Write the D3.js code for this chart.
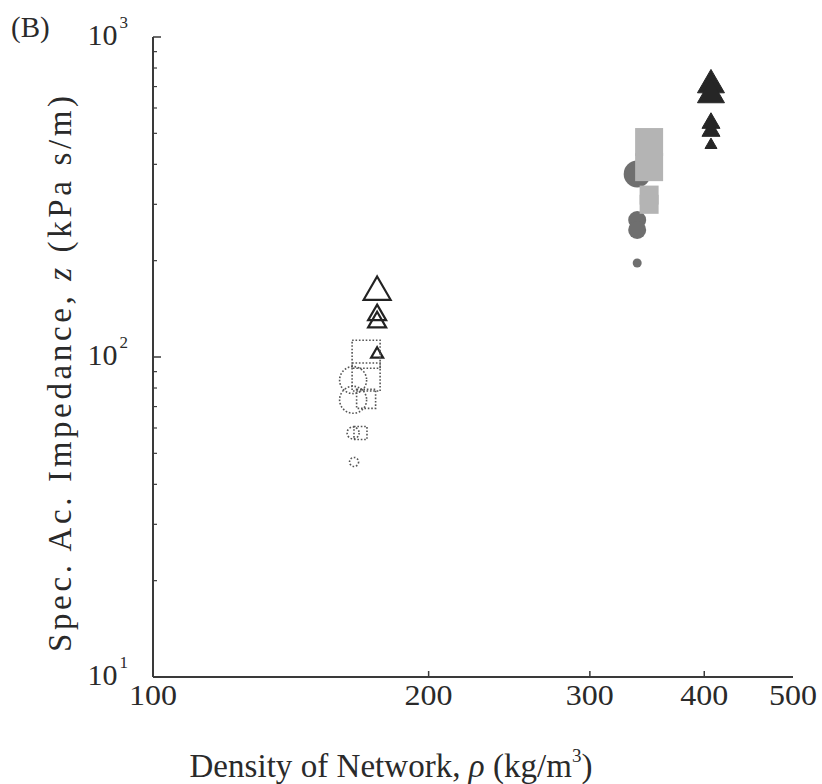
<!DOCTYPE html>
<html>
<head>
<meta charset="utf-8">
<script src="https://cdn.jsdelivr.net/npm/d3@7"></script>
<style>
  html, body { margin: 0; padding: 0; background: #fff; }
  svg text { font-family: "Liberation Serif", "DejaVu Serif", serif; fill: #2a2a2a; }
</style>
</head>
<body>
<div id="chart"></div>
<script>
// ── Data: density (kg/m3) vs specific acoustic impedance (kPa s/m) ──────────
// three networks: open markers (low density), grey (mid), black (high)
const openDensity   = [175.7, 175.7, 175.7, 175.7, 170.9, 170.9, 170.9, 168.5, 165.4, 165.4, 165.4, 165.8];
const openImpedance = [159.6, 135.3, 128.5, 102.0, 102.0,  86.6,  74.0,  57.9,  84.7,  73.5,  57.9,  47.0];
const openShape     = ["tri", "tri", "tri", "tri", "sq",  "sq",  "sq",  "sq",  "circ", "circ", "circ", "circ"];
const openClass     = ["L",   "M",   "M",   "S",   "L",   "L",   "M",   "S",   "L",   "L",   "S",   "XS"];

const greyDensity   = [348.2, 348.2, 348.2, 348.2, 337.9, 337.9, 337.9, 337.9];
const greyImpedance = [469.6, 392.0, 320.6, 300.0, 373.0, 268.0, 249.5, 196.7];
const greyShape     = ["sq",  "sq",  "sq",  "sq",  "circ", "circ", "circ", "circ"];
const greyClass     = ["L",   "L",   "M",   "M",   "L",   "M",   "M",   "XS"];

const blackDensity   = [406.8, 406.8, 406.8, 406.8, 406.8];
const blackImpedance = [707.9, 659.0, 538.0, 508.0, 459.6];
const blackShape     = ["tri", "tri", "tri", "tri", "tri"];
const blackClass     = ["L",   "L",   "M",   "M",   "S"];

const xTicks = [100, 200, 300, 400, 500];
const yTicks = [10, 100, 1000];

// ── Layout ──────────────────────────────────────────────────────────────────
const W = 822, H = 784;
const plot = { left: 153, right: 793, top: 37, bottom: 677 };

const svg = d3.select("#chart").append("svg")
  .attr("width", W).attr("height", H);

const x = d3.scaleLog().domain([100, 500]).range([plot.left, plot.right]);
const y = d3.scaleLog().domain([10, 1000]).range([plot.bottom, plot.top]);

// marker width per size class
const markerW = { L: 27, M: 18, S: 12, XS: 9 };

function symbolPath(shape, cls) {
  const w = markerW[cls];
  if (shape === "circ") return d3.symbol(d3.symbolCircle, Math.PI * (w / 2) * (w / 2))();
  if (shape === "sq")   return d3.symbol(d3.symbolSquare, (w + 1) * (w + 1))();
  return d3.symbol(d3.symbolTriangle, Math.sqrt(3) / 4 * w * w)();
}

// ── Axes ────────────────────────────────────────────────────────────────────
const axisColor = "#3a3a3a";
const gAxes = svg.append("g");

gAxes.append("line")
  .attr("x1", plot.left).attr("x2", plot.left)
  .attr("y1", plot.top).attr("y2", plot.bottom)
  .attr("stroke", axisColor).attr("stroke-width", 2);
gAxes.append("line")
  .attr("x1", plot.left).attr("x2", plot.right)
  .attr("y1", plot.bottom).attr("y2", plot.bottom)
  .attr("stroke", axisColor).attr("stroke-width", 2);

// y ticks (inward, major + minor)
const yMinor = d3.range(1, 3).flatMap(e => d3.range(2, 10).map(m => m * Math.pow(10, e)));
yMinor.forEach(v => {
  gAxes.append("line")
    .attr("x1", plot.left).attr("x2", plot.left + 4)
    .attr("y1", y(v)).attr("y2", y(v))
    .attr("stroke", axisColor).attr("stroke-width", 1.2);
});
yTicks.forEach(v => {
  gAxes.append("line")
    .attr("x1", plot.left).attr("x2", plot.left + 8)
    .attr("y1", y(v)).attr("y2", y(v))
    .attr("stroke", axisColor).attr("stroke-width", 1.5);
  const exp = Math.round(Math.log10(v));
  const t = gAxes.append("text")
    .attr("x", plot.left - 25).attr("y", y(v) + 8)
    .attr("text-anchor", "end")
    .attr("font-size", 30);
  t.append("tspan").text("10");
  t.append("tspan").attr("font-size", 17).attr("dy", -17).attr("dx", 2).text(exp);
});

// x ticks
xTicks.forEach(v => {
  if (v > 100 && v < 500) {
    gAxes.append("line")
      .attr("x1", x(v)).attr("x2", x(v))
      .attr("y1", plot.bottom).attr("y2", plot.bottom - 6)
      .attr("stroke", axisColor).attr("stroke-width", 1.5);
  }
  gAxes.append("text")
    .attr("x", x(v)).attr("y", plot.bottom + 28)
    .attr("text-anchor", "middle")
    .attr("font-size", 30)
    .attr("textLength", 48).attr("lengthAdjust", "spacingAndGlyphs")
    .text(v);
});

// ── Axis titles ─────────────────────────────────────────────────────────────
const xt = svg.append("text")
  .attr("x", 391).attr("y", 777)
  .attr("text-anchor", "middle")
  .attr("font-size", 33)
  .attr("textLength", 403).attr("lengthAdjust", "spacing");
xt.append("tspan").text("Density of Network, ");
xt.append("tspan").attr("font-style", "italic").text("ρ");
xt.append("tspan").text(" (kg/m");
xt.append("tspan").attr("font-size", 19).attr("dy", -15).text("3");
xt.append("tspan").attr("dy", 15).text(")");

const yt = svg.append("text")
  .attr("transform", "translate(71,374) rotate(-90)")
  .attr("text-anchor", "middle")
  .attr("font-size", 33)
  .attr("textLength", 556).attr("lengthAdjust", "spacing");
yt.append("tspan").text("Spec. Ac. Impedance, ");
yt.append("tspan").attr("font-style", "italic").text("z");
yt.append("tspan").text(" (kPa s/m)");

svg.append("text")
  .attr("x", 11).attr("y", 37)
  .attr("font-size", 29)
  .text("(B)");

// ── Markers ─────────────────────────────────────────────────────────────────
const gMarks = svg.append("g");

function drawSeries(dens, imp, shape, cls, styleFn) {
  dens.forEach((d, i) => {
    const p = gMarks.append("path")
      .attr("d", symbolPath(shape[i], cls[i]))
      .attr("transform", `translate(${x(d)},${y(imp[i])})`);
    styleFn(p, shape[i]);
  });
}

// grey network: circles darker, squares lighter (squares drawn over circles)
const greyOrder = d3.range(greyDensity.length).sort((a, b) =>
  (greyShape[a] === "circ" ? 0 : 1) - (greyShape[b] === "circ" ? 0 : 1));
drawSeries(greyOrder.map(i => greyDensity[i]), greyOrder.map(i => greyImpedance[i]),
  greyOrder.map(i => greyShape[i]), greyOrder.map(i => greyClass[i]),
  (p, s) => p.attr("fill", s === "circ" ? "#6f6f6f" : "#b4b4b4").attr("stroke", "none"));

drawSeries(blackDensity, blackImpedance, blackShape, blackClass,
  p => p.attr("fill", "#262626").attr("stroke", "#262626").attr("stroke-width", 1));

drawSeries(openDensity, openImpedance, openShape, openClass,
  (p, s) => {
    p.attr("fill", "none");
    if (s === "tri") p.attr("stroke", "#222").attr("stroke-width", 2.2);
    else p.attr("stroke", "#555").attr("stroke-width", 1.6).attr("stroke-dasharray", "1.6,1.8");
  });
</script>
</body>
</html>
